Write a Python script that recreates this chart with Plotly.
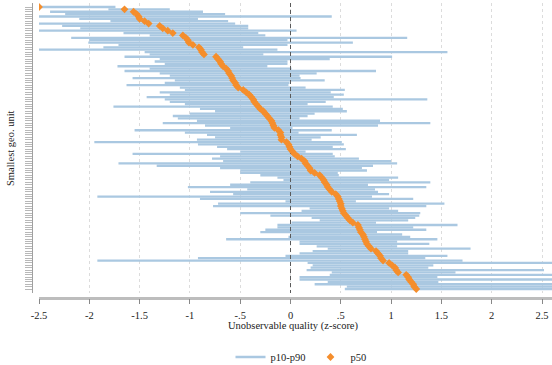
import plotly.graph_objects as go

W, H = 552, 365

units = [f"u{i+1}" for i in range(120)]

p10 = [-2.50, -1.81, -2.39, -2.24, -2.50, -2.10, -1.79, -2.50, -2.27, -2.09,
       -2.50, -1.66, -1.40, -2.18, -2.00, -2.01, -1.71, -1.86, -2.50, -1.45,
       -1.40, -1.65, -1.30, -1.35, -1.25, -1.72, -1.40, -1.65, -1.30, -1.20,
       -1.57, -1.15, -1.25, -1.63, -1.10, -1.05, -1.30, -1.20, -1.43, -1.25,
       -1.20, -1.05, -1.76, -0.90, -0.75, -1.00, -1.17, -1.12, -0.93, -1.27,
       -0.85, -0.60, -1.55, -1.05, -0.83, -0.75, -0.93, -1.95, -0.92, -0.73,
       -0.63, -0.50, -1.57, -0.70, -0.78, -0.67, -1.71, -1.33, -0.70, -0.50,
       -0.50, -0.30, -0.13, -0.07, -0.40, -0.60, -1.02, -0.43, -0.80, -0.57,
       -1.92, -0.90, -0.05, -0.72, -0.77, 0.19, 0.11, -0.50, -0.20, 0.21,
       0.29, 0.01, -0.13, -0.13, -0.25, -0.30, 0.00, -0.02, -0.64, 0.09,
       0.09, 0.26, 0.37, 0.22, 0.09, -0.05, -0.92, -1.92, 0.17, 0.22,
       0.20, 0.16, 0.41, 0.39, 0.09, 0.09, 0.37, 0.24, 0.56, 0.54]

p50 = [-2.50, -1.65, -1.56, -1.53, -1.51, -1.50, -1.45, -1.41, -1.30, -1.27,
       -1.22, -1.17, -1.07, -1.04, -1.02, -1.01, -0.97, -0.91, -0.89, -0.88,
       -0.86, -0.74, -0.72, -0.70, -0.69, -0.67, -0.64, -0.62, -0.61, -0.59,
       -0.58, -0.57, -0.55, -0.54, -0.52, -0.47, -0.44, -0.41, -0.39, -0.37,
       -0.36, -0.34, -0.32, -0.30, -0.27, -0.25, -0.23, -0.21, -0.19, -0.18,
       -0.17, -0.16, -0.12, -0.10, -0.10, -0.09, -0.09, -0.04, -0.02, -0.01,
       0.00, 0.02, 0.04, 0.07, 0.11, 0.14, 0.15, 0.17, 0.19, 0.20,
       0.24, 0.29, 0.31, 0.33, 0.34, 0.36, 0.37, 0.39, 0.41, 0.45,
       0.47, 0.48, 0.49, 0.50, 0.50, 0.51, 0.52, 0.53, 0.55, 0.57,
       0.59, 0.62, 0.67, 0.68, 0.69, 0.70, 0.72, 0.73, 0.74, 0.75,
       0.76, 0.78, 0.80, 0.85, 0.87, 0.89, 0.90, 0.92, 0.98, 1.01,
       1.04, 1.05, 1.07, 1.15, 1.17, 1.18, 1.20, 1.22, 1.23, 1.25]

p90 = [-1.74, -1.20, -0.87, -0.65, 0.41, -0.92, -0.62, -0.55, -0.42, -0.42,
       0.06, -0.32, -0.25, 1.16, -0.03, 0.62, -0.03, -0.47, -0.13, 1.56,
       -0.27, 1.01, 0.39, -0.03, -0.03, -0.23, 0.01, 0.85, 0.26, 0.09,
       0.10, 0.34, -0.01, -0.02, 0.15, 0.54, 0.40, 0.53, 0.43, 1.36,
       0.35, 0.17, 0.42, 0.52, 0.56, 0.24, 0.17, 0.09, 0.89, 1.39,
       0.87, 0.02, 0.41, 0.08, 0.66, 0.30, 0.21, 0.51, 0.53, 0.42,
       0.55, 0.15, 0.42, 0.44, 0.68, 1.00, 1.06, 0.82, 0.71, 0.76,
       0.47, 0.48, 1.07, 0.98, 1.39, 0.77, 1.35, 0.84, 0.87, 0.98,
       0.81, 1.22, 0.65, 1.53, 1.35, 0.98, 1.07, 1.29, 1.28, 1.24,
       1.17, 0.85, 1.66, 1.22, 1.35, 0.86, 1.11, 1.19, 1.46, 1.06,
       1.38, 1.06, 1.79, 1.17, 1.17, 1.56, 1.34, 1.71, 2.75, 1.42,
       1.37, 2.52, 1.64, 2.80, 1.46, 2.90, 1.47, 2.85, 3.00, 2.95]

xticks = [-2.5, -2, -1.5, -1, -0.5, 0, 0.5, 1, 1.5, 2, 2.5]
xticklabels = ["-2.5", "-2", "-1.5", "-1", "-.5", "0", ".5", "1", "1.5", "2", "2.5"]

FONT = "Liberation Serif"
BLUE = "rgb(170,200,225)"
ORANGE = "rgb(245,142,44)"

n = len(units)
rows = list(range(n))

seg_x, seg_y = [], []
for r, lo, hi in zip(rows, p10, p90):
    seg_x += [lo, hi, None]
    seg_y += [r, r, None]

# pixel layout
plot_left, plot_right = 39, 552
plot_top, plot_bottom = 3, 293
row_top_px, row_bot_px = 7, 289
px_per_row = (row_bot_px - row_top_px) / (n - 1)
y_top = -(row_top_px - plot_top) / px_per_row
y_bot = (n - 1) + (plot_bottom - row_bot_px) / px_per_row

fig = go.Figure()
fig.add_trace(go.Scatter(
    x=seg_x, y=seg_y, mode="lines", name="p10-p90",
    line=dict(color=BLUE, width=2.3), hoverinfo="skip"))
fig.add_trace(go.Scatter(
    x=[0, 0], y=[y_top, y_bot], mode="lines", showlegend=False,
    line=dict(color="#5a5a5a", width=1, dash="4px,3px"), hoverinfo="skip"))
fig.add_trace(go.Scatter(
    x=p50, y=rows, mode="markers", name="p50",
    marker=dict(symbol="diamond", size=6, color=ORANGE, line=dict(width=0))))

fig.update_layout(
    width=W, height=H,
    margin=dict(l=0, r=0, t=0, b=0, autoexpand=False),
    paper_bgcolor="white", plot_bgcolor="white",
    font=dict(family=FONT, size=10.5, color="#222"),
    showlegend=True,
    legend=dict(orientation="h", x=301 / W, xanchor="center",
                y=1 - 357 / H, yanchor="middle",
                font=dict(family=FONT, size=10.5, color="#222"),
                bgcolor="rgba(0,0,0,0)", itemwidth=30),
    xaxis=dict(
        domain=[plot_left / W, plot_right / W],
        range=[-2.5, -2.5 + 5.0 * (plot_right - plot_left) / (542 - plot_left)],
        anchor="free", position=1 - 297.5 / H,
        tickvals=xticks, ticktext=xticklabels,
        ticks="outside", ticklen=5, tickwidth=1, tickcolor="#888",
        ticklabelstandoff=2,
        showline=True, linecolor="#bdbdbd", linewidth=2.5,
        showgrid=True, gridcolor="#dcdcdc", griddash="dot", gridwidth=1,
        zeroline=False, tickfont=dict(family=FONT, size=10.5, color="#222"),
        automargin=False, fixedrange=True),
    yaxis=dict(
        domain=[1 - plot_bottom / H, 1 - plot_top / H],
        range=[y_bot, y_top],
        anchor="free", position=32 / W,
        tickvals=rows, showticklabels=False,
        ticks="outside", ticklen=7, tickwidth=1, tickcolor="#b8b8b8",
        showline=True, linecolor="#a0a0a0", linewidth=1,
        showgrid=False, zeroline=False, automargin=False, fixedrange=True),
    annotations=[
        dict(text="Unobservable quality (z-score)", xref="paper", yref="paper",
             x=293 / W, y=1 - 326 / H, xanchor="center", yanchor="middle",
             showarrow=False, font=dict(family=FONT, size=10.5, color="#222")),
        dict(text="Smallest geo. unit", xref="paper", yref="paper",
             x=10 / W, y=1 - 148 / H, xanchor="center", yanchor="middle",
             textangle=-90, showarrow=False,
             font=dict(family=FONT, size=10.5, color="#222")),
    ],
)

fig.write_html("out.html")
